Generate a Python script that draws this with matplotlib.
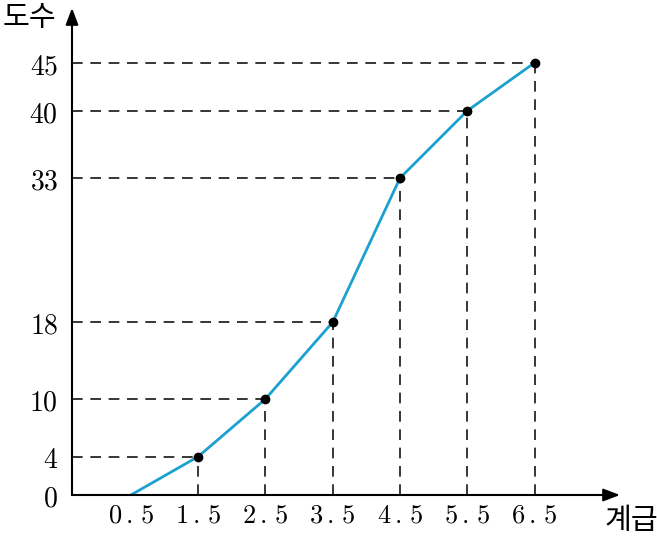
import matplotlib
matplotlib.use('Agg')
import matplotlib.pyplot as plt

plt.rcParams['mathtext.fontset'] = 'cm'
plt.rcParams['font.family'] = ['Noto Sans CJK KR', 'DejaVu Sans']

# 계급 경계값과 누적도수
classes = [0.5, 1.5, 2.5, 3.5, 4.5, 5.5, 6.5]
cum_freq = [0, 4, 10, 18, 33, 40, 45]
x_labels = ['0.5', '1.5', '2.5', '3.5', '4.5', '5.5', '6.5']
y_ticks = [0, 4, 10, 18, 33, 40, 45]

W, H = 657, 539
fig = plt.figure(figsize=(W / 100, H / 100), dpi=100)
ax = fig.add_axes([72 / W, (H - 495) / H, (620 - 72) / W, (495 - 8) / H])
xmin, xmax = -0.376, 7.77
ymin, ymax = 0, 50.7
ax.set_xlim(xmin, xmax)
ax.set_ylim(ymin, ymax)
for s in ax.spines.values():
    s.set_visible(False)

# 점선
for x, y in zip(classes[1:], cum_freq[1:]):
    ax.plot([xmin, x], [y, y], color='black', lw=1.1, dashes=(7, 5))
    ax.plot([x, x], [0, y], color='black', lw=1.1, dashes=(7, 5))

# 누적도수분포다각형
ax.plot(classes, cum_freq, color='#1ba1cf', lw=2.0, solid_capstyle='butt', zorder=3)
ax.plot(classes[1:], cum_freq[1:], 'o', color='black', ms=6, zorder=4)

# 축 화살표
arrow = dict(arrowstyle='-|>,head_length=1.0,head_width=0.38', color='black', lw=1.5,
             shrinkA=0, shrinkB=0)
ax.annotate('', xy=(xmax, 0), xytext=(xmin, 0), arrowprops=arrow, annotation_clip=False)
ax.annotate('', xy=(xmin, ymax), xytext=(xmin, 0), arrowprops=arrow, annotation_clip=False)

ax.set_xticks(classes)
ax.set_xticklabels(['$' + t.replace('.', r'\,.\,') + '$' for t in x_labels], fontsize=19)
ax.set_yticks(y_ticks)
ax.set_yticklabels(['$%d$' % v for v in y_ticks], fontsize=20)
ax.tick_params(length=0)
ax.tick_params(axis='x', pad=5)
ax.tick_params(axis='y', pad=10)

fig.text(29 / W, 1 - 18 / H, '도수', fontsize=21, ha='center', va='center')
fig.text(631 / W, 1 - 521 / H, '계급', fontsize=21, ha='center', va='center')

fig.savefig('out.png', dpi=100)
